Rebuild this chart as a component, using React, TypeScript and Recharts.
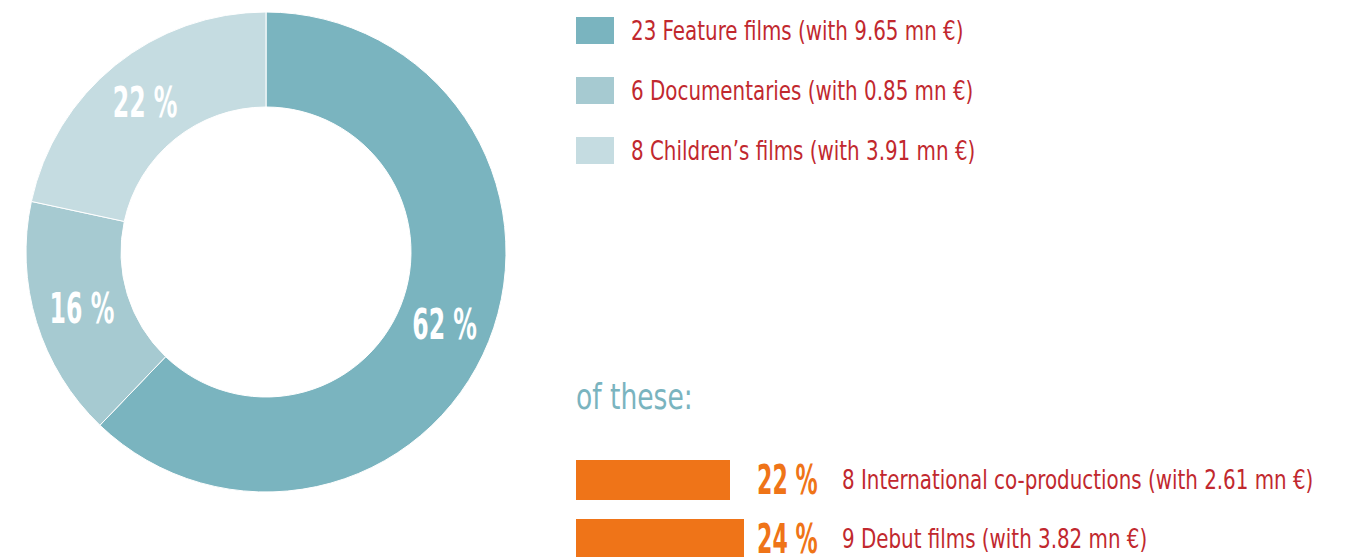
import { Bar, BarChart, Cell, LabelList, Pie, PieChart, XAxis, YAxis } from 'recharts';

const genres = ['Feature films', 'Documentaries', 'Children’s films'];
const genreCounts = [23, 6, 8];
const genreFunding = ['9.65', '0.85', '3.91'];
const genreShares = [62, 16, 22];
const genreColors = ['#7ab4bf', '#a6cad1', '#c5dce1'];

const subsetNames = ['International co-productions', 'Debut films'];
const subsetCounts = [8, 9];
const subsetShares = [22, 24];
const subsetFunding = ['2.61', '3.82'];

const FONT = "'DejaVu Sans Condensed', 'Liberation Sans Narrow', 'Liberation Sans', sans-serif";
const RED = '#c1282e';
const ORANGE = '#ef7418';
const TEAL = '#7ab4bf';

const pieData = genres.map((g, i) => ({ name: g, value: genreCounts[i], share: genreShares[i] }));
const barData = subsetNames.map((n, i) => ({
  name: n,
  share: subsetShares[i],
  text: `${subsetCounts[i]} ${n} (with ${subsetFunding[i]} mn €)`,
}));

const RADIAN = Math.PI / 180;

function PieLabel(props: any) {
  const { cx, cy, midAngle, innerRadius, outerRadius, index } = props;
  const r = (innerRadius + outerRadius) / 2;
  const x = cx + r * Math.cos(-midAngle * RADIAN);
  const y = cy + r * Math.sin(-midAngle * RADIAN);
  return (
    <text
      transform={`translate(${x},${y}) scale(0.61,1)`}
      fill="#fff"
      fontFamily={FONT}
      fontWeight="bold"
      fontSize={43}
      textAnchor="middle"
      dominantBaseline="central"
    >
      {genreShares[index]} %
    </text>
  );
}

function BarLabel(props: any) {
  const { x, y, height, index } = props;
  const cy = y + height / 2;
  return (
    <g fontFamily={FONT}>
      <text
        transform={`translate(${x + 181},${cy}) scale(0.6,1)`}
        fill={ORANGE}
        fontWeight="bold"
        fontSize={41}
        dominantBaseline="central"
      >
        {subsetShares[index]} %
      </text>
      <text
        transform={`translate(${x + 266},${cy}) scale(0.85,1)`}
        fill={RED}
        fontSize={26}
        dominantBaseline="central"
      >
        {barData[index].text}
      </text>
    </g>
  );
}

export default function App() {
  return (
    <div
      style={{
        position: 'absolute',
        left: 0,
        top: 0,
        width: 1345,
        height: 557,
        overflow: 'hidden',
        background: '#fff',
        fontFamily: FONT,
      }}
    >
      <div style={{ position: 'absolute', left: 0, top: 0 }}>
        <PieChart width={532} height={504} margin={{ top: 0, right: 0, bottom: 0, left: 0 }}>
          <Pie
            data={pieData}
            dataKey="value"
            cx={266}
            cy={252}
            innerRadius={145}
            outerRadius={240}
            startAngle={90}
            endAngle={-270}
            stroke="#fff"
            strokeWidth={1}
            label={PieLabel}
            labelLine={false}
            isAnimationActive={false}
          >
            {pieData.map((d, i) => (
              <Cell key={d.name} fill={genreColors[i]} />
            ))}
          </Pie>
        </PieChart>
      </div>

      {genres.map((g, i) => (
        <div
          key={g}
          style={{
            position: 'absolute',
            left: 576,
            top: 17 + i * 60,
            height: 27,
            display: 'flex',
            alignItems: 'center',
            whiteSpace: 'nowrap',
          }}
        >
          <div style={{ width: 38, height: 27, background: genreColors[i] }} />
          <span
            style={{
              marginLeft: 17,
              color: RED,
              fontSize: 26,
              display: 'inline-block',
              transform: 'scaleX(0.85)',
              transformOrigin: 'left center',
            }}
          >
            {genreCounts[i]} {g} (with {genreFunding[i]} mn €)
          </span>
        </div>
      ))}

      <div
        style={{
          position: 'absolute',
          left: 576,
          top: 376,
          fontSize: 36,
          color: TEAL,
          whiteSpace: 'nowrap',
          transform: 'scaleX(0.82)',
          transformOrigin: 'left center',
        }}
      >
        of these:
      </div>

      <div style={{ position: 'absolute', left: 0, top: 450 }}>
        <BarChart
          width={1345}
          height={118}
          data={barData}
          layout="vertical"
          margin={{ top: 0, right: 69, bottom: 0, left: 576 }}
          barSize={40}
        >
          <XAxis type="number" domain={[0, 100]} hide />
          <YAxis type="category" dataKey="name" hide />
          <Bar dataKey="share" fill={ORANGE} isAnimationActive={false}>
            <LabelList dataKey="share" content={BarLabel} />
          </Bar>
        </BarChart>
      </div>
    </div>
  );
}
